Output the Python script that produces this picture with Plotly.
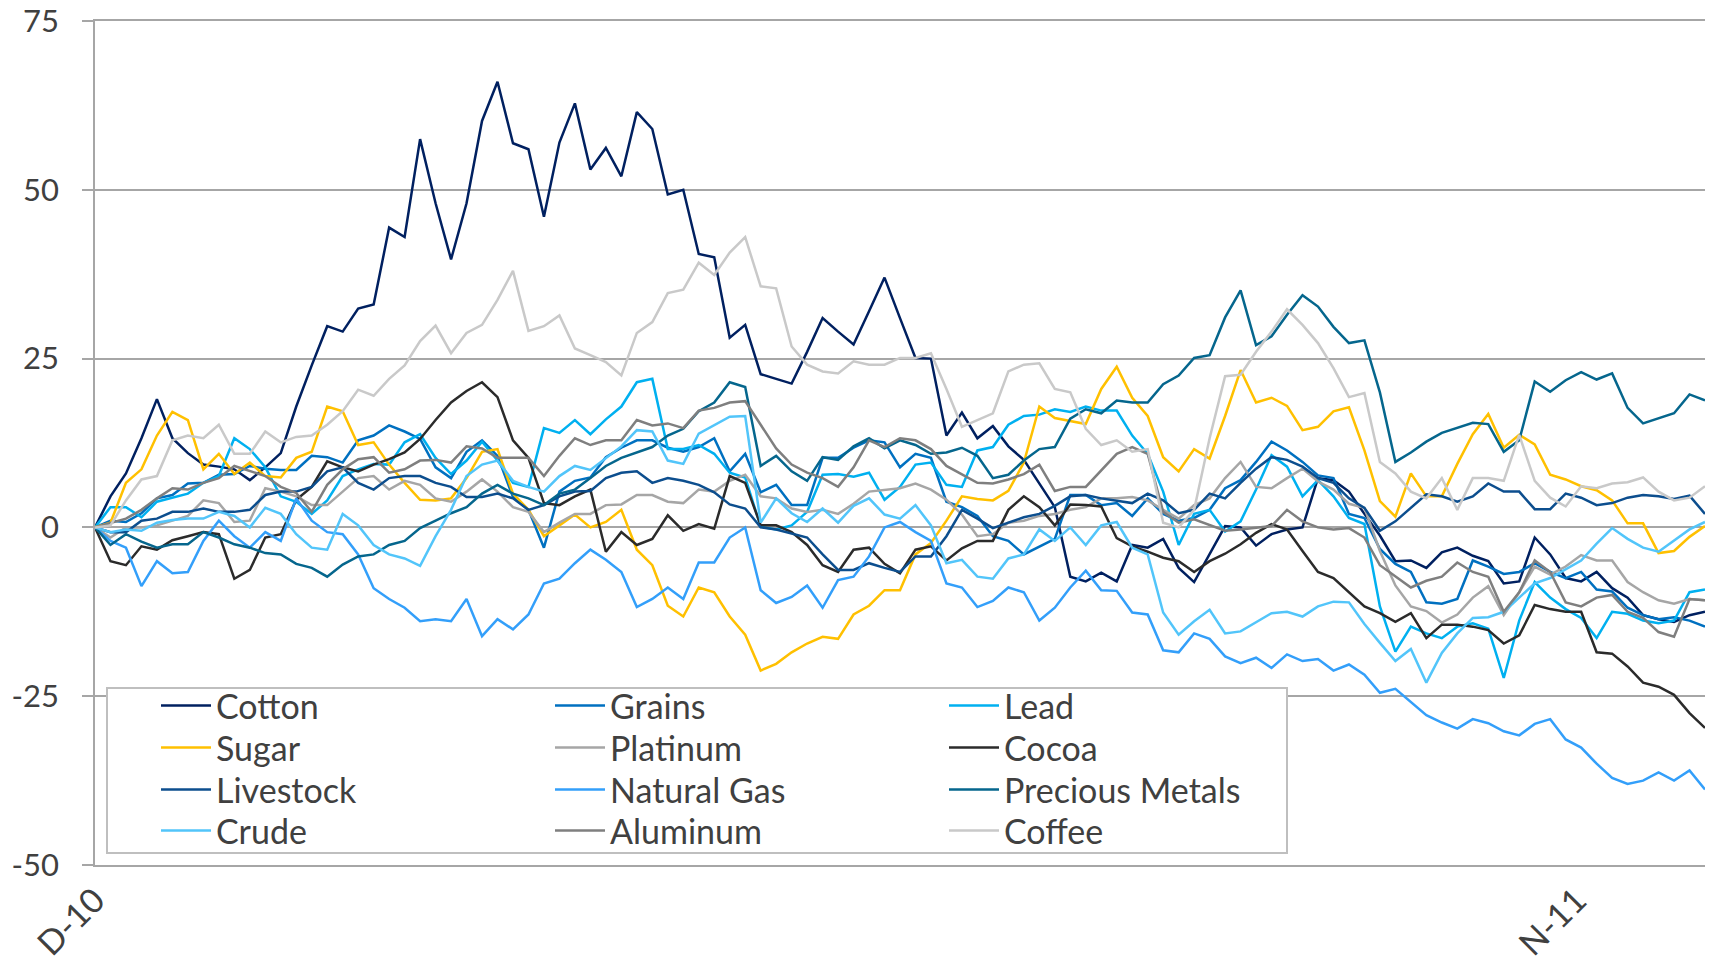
import plotly.graph_objects as go
import pandas as pd

# Samples every half week, Dec 2010 - Nov 2011.
# Each series: values at whole weeks (*_w) and at the half weeks between them (*_h).
dates = pd.date_range("2010-12-01", periods=105, freq="84h")

cotton_w = [0, 8, 19, 11, 9, 7, 11, 24, 29, 33, 43, 48, 48, 66, 56, 57, 53, 52, 59,
            50, 40, 30, 22, 26, 29, 32, 31, 25, 17, 15, 10, 3, -8, -8, -3, -6, -4,
            0, -1, 0, 7, 2, -5, -6, -3, -5, -8, -4, -8, -9, -13, -14, -12.5]
cotton_h = [4.6, 13.2, 13.2, 9.3, 8.6, 8.9, 17.9, 29.8, 32.4,
            44.4, 57.5, 39.7, 60.2, 56.9, 46, 62.8, 56.2, 61.5,
            49.3, 40.5, 28.1, 22.7, 21.3, 31, 27.1, 37, 25.1,
            13.6, 13.2, 12, 6.5, -7.3, -6.7, -2.6, -1.7, -8.1,
            0.2, -2.7, -0.3, 7.3, 5.3, -1.2, -4.9, -3.7, -4.2,
            -8.3, -1.5, -7.5, -6.6, -10.4, -13.6, -13]

grains_w = [0, 0.8, 4.3, 6.5, 7.8, 9.1, 8.5, 10.6, 9.6, 13.6, 14.2, 8.9, 11.2, 10.6, 2.6,
            5.3, 7.4, 11.8, 12.9, 11.2, 13.2, 10.9, 6.3, 3.3, 10.3, 12.9, 8.9, 10.3, 3,
            -1.3, -4, -1.7, 4.8, 3.6, 4.3, 1, 2.6, 7, 12.7, 9.7, 7.3, 1.4, -5.4, -11.1,
            -10.6, -5.8, -6.6, -6.6, -6.6, -9.5, -13, -13.3, -14.7]
grains_h = [1, 2.1, 4.8, 6.6, 7.9, 8.7, 8.5, 10.4, 12.9,
            15.1, 13.1, 7.3, 12.9, 4.5, -3, 6.9, 10.4, 12.9,
            11.8, 11.9, 8.3, 5.2, 3.3, 10.3, 11.8, 12.6, 10.9,
            3.8, 1.7, -2, -2.8, 4.8, 3.3, 1.7, 2, 1.4,
            5.8, 9.7, 11.4, 7.7, 2, -3.2, -6.6, -11.3, -4.9,
            -6.9, -5.3, -7.5, -9.2, -11.9, -13.6, -13.8]

lead_w = [0, 3, 3.8, 5, 7.6, 11.6, 4.6, 2, 7.6, 9.4, 12.6, 10.3, 9.9, 9.9, 6, 14, 13.8,
          17.9, 22, 11.6, 10.9, 7.4, -0.3, 2.3, 7.9, 8.1, 6, 9.6, 6, 11.9, 16.5, 17.5,
          17.9, 17.3, 10.9, -2.6, 2.6, 0.9, 10.7, 4.6, 4.6, 0.5, -18.4, -15.7, -14.7,
          -15, -13.8, -10.4, -13.4, -12.5, -13.8, -13.8, -9.2]
lead_h = [3, 1.5, 4.4, 6.6, 13.2, 8.9, 3.8, 4, 8.6,
          9.3, 13.8, 7.9, 12.7, 6.6, 14.7, 15.9, 16, 21.5,
          11.6, 12.2, 8.1, 0.1, 0.3, 7.8, 7.5, 4.1, 9.3,
          6.3, 11.4, 15.2, 16.7, 17.1, 17.3, 13.6, 5.3, 2,
          -0.6, 5.6, 9, 7, 1.4, -11.7, -14.7, -16.4, -14.2,
          -22.3, -8.1, -12.1, -16.4, -12.8, -14.2, -9.6]

sugar_w = [0, 6.6, 13.6, 15.9, 10.9, 9.6, 7.4, 11.2, 17.2, 12.6, 6.6, 4, 7.3, 11.6, 2.6,
           0.3, 0, 2.6, -5.6, -13.2, -9.6, -15.9, -20.2, -17.2, -16.5, -11.6, -9.3, -2.3,
           4.6, 4, 9.6, 16.2, 15.3, 23.8, 16.5, 8.3, 10.2, 23.3, 19.2, 14.4, 17.2, 11.4,
           1.6, 4.6, 9.4, 16.8, 13.7, 7.8, 6.1, 4, 0.6, -3.5, 0.2]
sugar_h = [0.7, 8.6, 17.1, 8.6, 7.9, 7.6, 10.3, 17.9, 12.2,
           9.3, 4.1, 4.3, 11.2, 5, -1.3, 1.9, 0.8, -3.3,
           -11.6, -8.9, -13.2, -21.2, -18.5, -16.2, -12.9, -9.3, -4,
           1, 4.2, 5.4, 17.9, 15.7, 20.5, 19.2, 10.4, 11.6,
           16.5, 18.5, 18, 14.9, 17.8, 3.9, 8, 4.6, 13.8,
           11.8, 12.3, 7.1, 5.5, 0.6, -3.8, -1.4]

platinum_w = [0, 0, 0.3, 1.7, 3.6, 1, 5.3, 3.3, 5.3, 7.6, 6.9, 4.3, 5.3, 5.3, 2.3, 0.7, 2,
              3.4, 4.8, 3.6, 5.3, 7.8, 4.3, 2.3, 2, 5.3, 5.8, 5.6, 1.9, -1, 1, 2, 3, 4.3,
              4, 1.3, 4.3, 9.7, 5.8, 8.7, 5.6, 2.9, -8.6, -12.4, -12.9, -8.7, -9.6, -7,
              -4.1, -4.9, -9.6, -11.3, -10.8]
platinum_h = [-1.5, 0, 1, 4, 0.8, 5.8, 4.6, 3.3, 7.3,
              5.6, 6.3, 3.8, 7.1, 3, -0.7, 2, 3.3, 4.8,
              3.8, 5.6, 6.9, 4.6, 2.8, 2.6, 3.5, 5.6, 6.5,
              4.1, -1.3, 0.7, 1.7, 2.6, 4.3, 4.5, 2.6, 3.3,
              7.3, 6, 7.3, 6.8, 3.5, -3.5, -11.7, -14.1, -10.4,
              -13, -5.8, -5.8, -4.9, -8.1, -10.8, -10.6]

cocoa_w = [0, -5.6, -3.3, -1.3, -1, -6.3, -1, 6, 8.9, 9.3, 11.1, 15.9, 20.2, 19.3, 10.3,
           3.3, 5.6, -0.7, -1.7, -0.5, -0.2, 6.6, 0.3, -2.6, -6.6, -3, -6.8, -2.8, -3.1,
           -2, 4.6, 0.3, 3.3, -1.6, -3.6, -5, -5, -2.5, 0.5, -3.5, -7.5, -11.7, -14,
           -16.4, -14.4, -15.2, -16, -12.1, -12.5, -18.7, -23, -24.8, -29.7]
cocoa_h = [-5, -2.8, -1.9, -0.7, -7.6, -1.5, 4.1, 9.8, 8.3,
           10.1, 13.1, 18.5, 21.5, 12.9, 3.6, 4.6, -3.6, -2.6,
           1.8, 0.5, 7.6, 0.3, -0.7, -5.6, -3.3, -5.4, -3.3,
           -4.9, -2, 2.6, 3, 3.4, 3.1, -2.8, -4.5, -6.6,
           -3.9, -0.8, -0.3, -6.6, -9.6, -12.7, -12.7, -14.4, -14.7,
           -17.2, -11.5, -12.5, -18.5, -20.6, -23.6, -27.5]

livestock_w = [0, -0.7, 1.3, 2.3, 2.3, 2.6, 5.3, 6, 8.9, 5.6, 7.6, 6.6, 4.5, 5, 2.6, 4.6,
               5.4, 8.1, 6.6, 6.9, 5.2, 2.8, -0.3, -1.5, -6.3, -5.3, -6.6, -4.3, 2.6, -0.1,
               1.5, 3.2, 4.8, 4, 5, 2.1, 5, 6.6, 10.4, 9, 6.6, 2.9, 0.9, 4.9, 3.8, 6.5,
               5.3, 2.7, 4.4, 3.6, 4.8, 4.2, 2]
livestock_h = [-0.7, 1, 2.3, 2.8, 2.3, 4.8, 5.3, 8.3, 6.6,
               7.3, 7.6, 6, 4.5, 4.3, 3.3, 5.3, 7.3, 8.3,
               7.3, 6.3, 3.4, 0, -0.9, -4, -6.3, -6, -4.3,
               -1.3, 1.3, 0.7, 2, 4.6, 4.3, 3.6, 4, 2.6,
               4.3, 8.7, 10, 7.3, 4.3, -0.5, 2.9, 4.6, 4.6,
               5.3, 2.7, 5, 3.3, 4.4, 4.6, 4.7]

natural_gas_w = [0, -3, -5, -6.6, 1, -3, -2, 1, -1, -9, -11.9, -13.6, -10.6, -13.6, -12.9,
                 -7.6, -3.3, -6.6, -10.6, -10.6, -5.2, 0, -11.2, -8.6, -7.8, -4.3, 0.8, -2,
                 -8.9, -10.9, -9.6, -11.9, -6.4, -9.4, -12.9, -18.5, -16.5, -20.1, -20.8,
                 -19.8, -21.2, -21.8, -23.9, -27.8, -29.8, -29, -30.8, -28.4, -32.6, -37.1,
                 -37.5, -37.5, -38.8]
natural_gas_h = [-2, -8.7, -6.8, -2, -1.3, -0.7, 4.3, -0.7, -4,
                 -10.6, -13.9, -13.9, -16.1, -15.1, -8.3, -5.3, -4.8, -11.8,
                 -8.9, -5.2, -1.5, -9.3, -10.3, -11.9, -7.3, 0, -0.7,
                 -8.3, -11.8, -8.9, -13.8, -8.9, -9.3, -12.6, -18.2, -15.7,
                 -19.1, -19.3, -18.8, -19.5, -20.3, -24.5, -25.8, -28.9, -28.4,
                 -30.2, -29.1, -31.4, -35, -38, -36.3, -36]

precious_metals_w = [0, -1, -3, -2.5, -1.5, -3, -4, -6, -5.5, -4, -2, 1, 3, 6.3, 4.3, 5,
                     7.3, 10.3, 11.9, 14.6, 18.5, 20.8, 10.6, 6.9, 10, 13.2, 12.9, 10.9,
                     11.8, 7.3, 9.9, 11.9, 17.5, 18.8, 18.5, 22.5, 25.5, 35.1, 28.3, 34.4,
                     29.7, 27.7, 9.7, 12.7, 14.8, 15.3, 12.9, 20.1, 23, 22.8, 15.4, 16.9, 18.8]
precious_metals_h = [-2.6, -2.1, -2.5, -0.7, -2.5, -3.8, -5.4, -7.3, -4.3,
                     -2.6, -0.1, 2.1, 5, 5, 3.3, 5.6, 9.1, 11.1,
                     13.6, 17.2, 21.5, 9.1, 8.3, 10.4, 12, 11.7, 12.2,
                     11.1, 10.6, 7.8, 11.6, 16.1, 16.9, 18.5, 21.2, 25.1,
                     31.1, 27, 31.5, 32.7, 27.3, 20, 11.1, 14, 15.5,
                     11.2, 21.6, 21.8, 21.9, 17.7, 16.1, 19.7]

crude_w = [0, -0.3, 0.7, 1.3, 2.3, 0, 2, -3, 2, -2.6, -4.6, -1.3, 7.6, 9.9, 6, 7.6, 8.5,
           12, 14.2, 9.4, 15.1, 16.5, 4.3, 0.8, 0.7, 4.3, 1.3, 0.3, -4.8, -7.6, -4, -2,
           -2.6, 0.8, -4, -15.9, -12.2, -15.4, -12.7, -13.2, -11, -14.3, -19.8, -23,
           -15.7, -13.3, -10.4, -7.5, -4.9, -0.1, -3, -1.9, 0.8]
crude_h = [-0.7, -0.5, 1.1, 1.3, 1.7, 2.9, -1, -3.3, 0.3,
           -4, -5.7, 2.6, 9.3, 6.9, 5.3, 9.1, 10.3, 14.4,
           9.9, 13.9, 16.4, 0.7, 2.1, 2.8, 3.2, 1.9, 3.3,
           -5.3, -7.3, -4.6, -0.3, 0, 0.3, -3, -12.6, -13.9,
           -15.7, -14.1, -12.5, -11.7, -11.1, -17.1, -18, -18.6, -13.4,
           -12.5, -8.3, -6.2, -2.4, -1.7, -3.6, -0.3]

aluminum_w = [0, 1.3, 4.3, 5.6, 7.3, 8.3, 6, 2.3, 8.6, 10.4, 8.6, 10, 12, 10.3, 10.3, 10.6,
              12.2, 12.9, 15.1, 14.7, 17.7, 18.7, 11.7, 8.1, 6, 12.9, 13.2, 11.6, 7.8, 6.5,
              7.9, 5.4, 6, 10.9, 10.9, 0.7, 0.3, -0.3, 0.2, 0.9, -0.3, -1.5, -7.3, -7.9,
              -5.2, -7.3, -9.6, -6.6, -11.7, -10, -13.4, -16.2, -10.8]
aluminum_h = [0.7, 2.6, 5.8, 6.6, 9.1, 7.6, 5.1, 6.3, 10.1,
              8.1, 9.9, 9.6, 11.7, 10.3, 7.6, 13.2, 12.9, 15.9,
              15.4, 17.3, 18.5, 15.2, 9.3, 7.3, 8.9, 11.9, 12.9,
              9.1, 6.6, 7.1, 9.3, 6, 8.5, 11.9, 2.3, 1.2,
              -0.5, -0.1, 2.6, 0, -0.1, -5.6, -8.9, -7.3, -6.6,
              -12.5, -4.9, -11.1, -10.4, -12.5, -15.5, -10.6]

coffee_w = [0, 4, 7.6, 13.6, 15.2, 10.9, 12.6, 13.6, 17.2, 19.5, 24, 29.9, 28.8, 33.7,
            29.1, 31.4, 25.5, 22.5, 30.4, 35.2, 37.4, 43, 35.4, 24.1, 22.8, 24.1, 25.1,
            25.8, 14.9, 16.9, 24.1, 20.5, 14.6, 12.9, 11.6, 0, 13.2, 22.6, 29, 30, 23.6,
            19.9, 8, 4.3, 2.6, 7.3, 13.7, 4.4, 6.1, 6.5, 7.4, 4, 6.1]
coffee_h = [0.3, 7.1, 12.9, 13.2, 10.9, 14.2, 13.4, 15.2, 20.4,
            22, 27.6, 25.8, 30, 38, 29.8, 26.5, 24.5, 28.8,
            34.7, 39.2, 40.7, 35.7, 26.8, 23.1, 24.6, 24.1, 25.1,
            20.5, 15.9, 23.1, 24.3, 20, 12.2, 11.2, 0.7, 2.6,
            22.4, 26, 32.3, 27.3, 19.3, 9.7, 5.3, 7.3, 7.3,
            6.9, 6.9, 3.1, 5.8, 6.7, 5.3, 4.4]

y_ticks = [-50, -25, 0, 25, 50, 75]
y_tick_text = ["-50", "-25", "0", "25", "50", "75"]
x_tick_dates = ["2010-12-01", "2011-11-01"]
x_tick_text = ["D-10", "N-11"]


def weave(whole, half):
    assert len(whole) == 53 and len(half) == 52
    out = []
    for a, b in zip(whole, half):
        out += [a, b]
    out.append(whole[-1])
    return out


series = [
    ("Cotton", weave(cotton_w, cotton_h), "#002060", "legend"),
    ("Grains", weave(grains_w, grains_h), "#0070C0", "legend"),
    ("Lead", weave(lead_w, lead_h), "#00B0F0", "legend"),
    ("Sugar", weave(sugar_w, sugar_h), "#FFC000", "legend2"),
    ("Platinum", weave(platinum_w, platinum_h), "#A6A6A6", "legend2"),
    ("Cocoa", weave(cocoa_w, cocoa_h), "#2B2B2B", "legend2"),
    ("Livestock", weave(livestock_w, livestock_h), "#0C4E8E", "legend3"),
    ("Natural Gas", weave(natural_gas_w, natural_gas_h), "#339FFA", "legend3"),
    ("Precious Metals", weave(precious_metals_w, precious_metals_h), "#05668D", "legend3"),
    ("Crude", weave(crude_w, crude_h), "#52C5FA", "legend4"),
    ("Aluminum", weave(aluminum_w, aluminum_h), "#7F7F7F", "legend4"),
    ("Coffee", weave(coffee_w, coffee_h), "#C9C9C9", "legend4"),
]

FONT = "Lato, sans-serif"
TXT = "#404040"
GRID = "#A6A6A6"

fig = go.Figure()
for name, vals, color, leg in series:
    fig.add_trace(go.Scatter(x=dates, y=vals, mode="lines", name=name,
                             line=dict(color=color, width=2.5), legend=leg))

# the page adds an 8px body margin; figure sized so the plot lands at 95..1705 x 21..865
W, H = 1709, 962
L, R, T, B = 87, 12, 13, 105
PW, PH = W - L - R, H - T - B
OFF = 8


def px_x(p):  # page pixel -> paper
    return (p - OFF - L) / PW


def px_y(p):
    return (H - B - (p - OFF)) / PH


leg_base = dict(orientation="h", entrywidth=329, entrywidthmode="pixels",
                xanchor="left", yanchor="middle", x=px_x(156),
                bgcolor="rgba(0,0,0,0)", borderwidth=0,
                font=dict(family=FONT, size=34, color=TXT), itemwidth=50)

fig.update_layout(
    width=W, height=H,
    margin=dict(l=L, r=R, t=T, b=B, autoexpand=False),
    paper_bgcolor="white", plot_bgcolor="white",
    font=dict(family=FONT, size=34, color=TXT),
    showlegend=True,
    legend=dict(leg_base, y=px_y(706)),
    legend2=dict(leg_base, y=px_y(748)),
    legend3=dict(leg_base, y=px_y(790)),
    legend4=dict(leg_base, y=px_y(831)),
    xaxis=dict(type="date", range=[dates[0], dates[-1]], automargin=False,
               tickmode="array", tickvals=x_tick_dates, ticktext=x_tick_text,
               tickangle=-45, ticks="", showgrid=False, zeroline=False,
               showline=True, mirror=True, linecolor=GRID, linewidth=1.5,
               ticklabeloverflow="allow",
               tickfont=dict(family=FONT, size=34, color=TXT)),
    yaxis=dict(range=[-50, 75], automargin=False,
               tickmode="array", tickvals=y_ticks, ticktext=y_tick_text,
               showgrid=True, gridcolor=GRID, gridwidth=1.5, zeroline=False,
               showline=True, linecolor=GRID, linewidth=1.5,
               ticks="outside", ticklen=11, tickcolor=GRID, tickwidth=1.5,
               ticklabelstandoff=17, ticklabeloverflow="allow",
               tickfont=dict(family=FONT, size=31, color=TXT)),
    shapes=[dict(type="rect", xref="paper", yref="paper",
                 x0=px_x(107), x1=px_x(1287), y0=px_y(853), y1=px_y(688),
                 fillcolor="white", line=dict(color="#BFBFBF", width=2),
                 layer="above")],
)

fig.write_html("out.html")
